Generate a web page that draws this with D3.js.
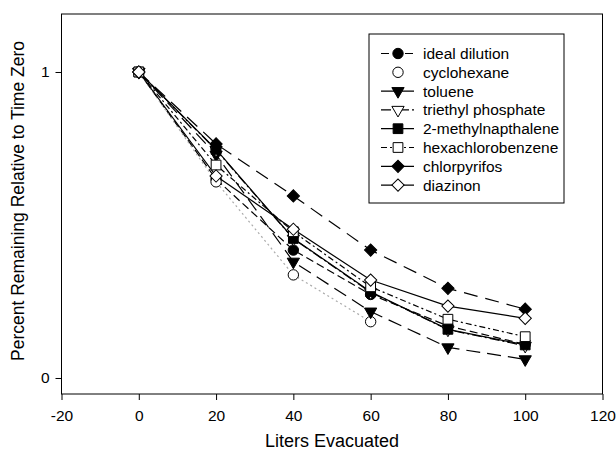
<!DOCTYPE html>
<html>
<head>
<meta charset="utf-8">
<script src="https://cdn.jsdelivr.net/npm/d3@7"></script>
<style>
  body { margin: 0; background: #fff; }
  svg { display: block; font-family: Arial, "Liberation Sans", sans-serif; }
</style>
</head>
<body>
<svg width="616" height="456"></svg>
<script>
// liters evacuated, shared by every compound
var liters = [0, 20, 40, 60, 80, 100];

var idealDilution     = [1, 0.65, 0.418, 0.273, 0.17, 0.11];
var cyclohexane       = [1, 0.641, 0.337, 0.184];
var toluene           = [1, 0.73, 0.38, 0.217, 0.10, 0.061];
var triethylPhosphate = [1, 0.745, 0.455, 0.28, 0.158, 0.105];
var methylnapthalene  = [1, 0.747, 0.456, 0.282, 0.159, 0.108];
var hexachlorobenzene = [1, 0.696, 0.478, 0.298, 0.192, 0.135];
var chlorpyrifos      = [1, 0.765, 0.595, 0.418, 0.293, 0.225];
var diazinon          = [1, 0.66, 0.486, 0.32, 0.235, 0.195];

var xTicks = [-20, 0, 20, 40, 60, 80, 100, 120];
var yTicks = [0, 1];

var svg = d3.select("svg"),
    plotLeft = 61.5, plotRight = 602.5, plotTop = 14, plotBottom = 394;

var x = d3.scaleLinear().domain([-20, 120]).range([plotLeft, plotRight]);
var y = d3.scaleLinear().domain([-0.0523, 1.1895]).range([plotBottom, plotTop]);

// series description: name, values, marker, fill, dash
var series = [
    {name: "ideal dilution", v: idealDilution, sym: d3.symbolCircle, size: 85, fill: "#000", dash: "8,4", stroke: "#000"},
    {name: "cyclohexane", v: cyclohexane, sym: d3.symbolCircle, size: 85, fill: "#fff", dash: "2,3", stroke: "#aaa", noLegendLine: true},
    {name: "toluene", v: toluene, sym: d3.symbolTriangle, size: 65, fill: "#000", dash: "14,7", stroke: "#000", rot: 180},
    {name: "triethyl phosphate", v: triethylPhosphate, sym: d3.symbolTriangle, size: 65, fill: "#fff", dash: "10,3,2,3", stroke: "#000", rot: 180},
    {name: "2-methylnapthalene", v: methylnapthalene, sym: d3.symbolSquare, size: 95, fill: "#000", dash: null, stroke: "#000"},
    {name: "hexachlorobenzene", v: hexachlorobenzene, sym: d3.symbolSquare, size: 95, fill: "#fff", dash: "6,3,2,3", stroke: "#000"},
    {name: "chlorpyrifos", v: chlorpyrifos, sym: d3.symbolSquare, size: 75, fill: "#000", dash: "14,8", stroke: "#000", rot: 45},
    {name: "diazinon", v: diazinon, sym: d3.symbolSquare, size: 75, fill: "#fff", dash: null, stroke: "#000", rot: 45}
];

// frame
svg.append("rect")
    .attr("x", plotLeft).attr("y", plotTop)
    .attr("width", plotRight - plotLeft).attr("height", plotBottom - plotTop)
    .attr("fill", "none").attr("stroke", "#000").attr("stroke-width", 1);

var xAxis = svg.append("g")
    .attr("transform", "translate(0," + plotBottom + ")")
    .call(d3.axisBottom(x).tickValues(xTicks).tickSize(6).tickSizeOuter(0).tickPadding(10).tickFormat(String));
var yAxis = svg.append("g")
    .attr("transform", "translate(" + plotLeft + ",0)")
    .call(d3.axisLeft(y).tickValues(yTicks).tickSize(6).tickSizeOuter(0).tickPadding(6).tickFormat(String));

[xAxis, yAxis].forEach(function (g) {
    g.select(".domain").remove();
    g.selectAll("text").attr("font-size", 15.5).attr("font-family", "Arial, 'Liberation Sans', sans-serif").attr("fill", "#000");
    g.selectAll("line").attr("stroke", "#000");
});

var line = d3.line()
    .x(function (d, i) { return x(liters[i]); })
    .y(function (d) { return y(d); });

series.forEach(function (s) {
    svg.append("path")
        .attr("d", line(s.v))
        .attr("fill", "none")
        .attr("stroke", s.stroke)
        .attr("stroke-width", 1.2)
        .attr("stroke-dasharray", s.dash);
});

series.forEach(function (s) {
    svg.append("g").selectAll("path")
        .data(s.v)
        .enter().append("path")
        .attr("d", d3.symbol().type(s.sym).size(s.size))
        .attr("transform", function (d, i) {
            return "translate(" + x(liters[i]) + "," + y(d) + ")" + (s.rot ? " rotate(" + s.rot + ")" : "");
        })
        .attr("fill", s.fill)
        .attr("stroke", "#000")
        .attr("stroke-width", 1);
});

// legend
var legend = svg.append("g");
legend.append("rect")
    .attr("x", 369).attr("y", 34)
    .attr("width", 195).attr("height", 169)
    .attr("fill", "#fff").attr("stroke", "#000").attr("stroke-width", 1);

var row = legend.selectAll("g.row")
    .data(series)
    .enter().append("g")
    .attr("class", "row")
    .attr("transform", function (d, i) { return "translate(0," + (53.5 + i * 18.8) + ")"; });

row.filter(function (d) { return !d.noLegendLine; })
    .append("line")
    .attr("x1", 381).attr("x2", 414)
    .attr("stroke", "#000").attr("stroke-width", 1.2)
    .attr("stroke-dasharray", function (d) { return d.dash; });

row.append("path")
    .attr("d", function (d) { return d3.symbol().type(d.sym).size(d.size)(); })
    .attr("transform", function (d) { return "translate(398,0)" + (d.rot ? " rotate(" + d.rot + ")" : ""); })
    .attr("fill", function (d) { return d.fill; })
    .attr("stroke", "#000");

row.append("text")
    .attr("x", 423).attr("dy", "0.35em")
    .attr("font-size", 15.5)
    .text(function (d) { return d.name; });

// axis titles
svg.append("text")
    .attr("x", (plotLeft + plotRight) / 2).attr("y", 447)
    .attr("text-anchor", "middle")
    .attr("font-size", 18)
    .text("Liters Evacuated");

svg.append("text")
    .attr("transform", "translate(24," + ((plotTop + plotBottom) / 2 - 3) + ") rotate(-90)")
    .attr("text-anchor", "middle")
    .attr("font-size", 17.5)
    .text("Percent Remaining Relative to Time Zero");
</script>
</body>
</html>
